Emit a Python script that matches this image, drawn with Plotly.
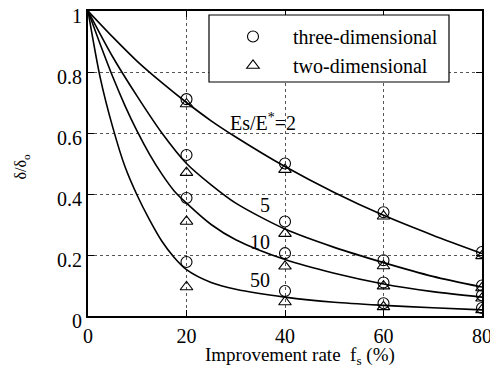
import plotly.graph_objects as go

# ---- data ----
fs_points = [20, 40, 60, 80]
three_dim = {
    "2":  [0.711, 0.50, 0.34, 0.21],
    "5":  [0.528, 0.31, 0.183, 0.10],
    "10": [0.387, 0.206, 0.11, 0.068],
    "50": [0.177, 0.082, 0.042, 0.026],
}
two_dim = {
    "2":  [0.695, 0.48, 0.327, 0.197],
    "5":  [0.47, 0.27, 0.164, 0.092],
    "10": [0.31, 0.163, 0.098, 0.058],
    "50": [0.095, 0.046, 0.03, 0.02],
}
curve_fs = {
    "2":  [0, 5, 10, 15, 20, 25, 30, 40, 50, 60, 70, 80],
    "5":  [0, 5, 10, 15, 20, 25, 30, 40, 50, 60, 70, 80],
    "10": [0, 2.5, 5, 7.5, 10, 12.5, 15, 17.5, 20, 25, 30, 40, 50, 60, 70, 80],
    "50": [0, 2.5, 5, 7.5, 10, 12.5, 15, 17.5, 20, 25, 30, 40, 50, 60, 70, 80],
}
curve_vals = {
    "2":  [1.0, 0.915, 0.835, 0.765, 0.70, 0.64, 0.587, 0.49, 0.405, 0.33, 0.265, 0.205],
    "5":  [1.0, 0.85, 0.72, 0.60, 0.50, 0.43, 0.37, 0.285, 0.225, 0.175, 0.13, 0.095],
    "10": [1.0, 0.89, 0.785, 0.69, 0.605, 0.53, 0.465, 0.41, 0.37, 0.30, 0.25, 0.185, 0.14, 0.105, 0.08, 0.062],
    "50": [1.0, 0.78, 0.62, 0.49, 0.395, 0.315, 0.245, 0.192, 0.152, 0.11, 0.088, 0.062, 0.045, 0.035, 0.027, 0.02],
}
curve_labels = ["Es/E<sup>*</sup>=2", "5", "10", "50"]
label_fs = [35.6, 36, 35, 35]
label_vals = [0.635, 0.364, 0.243, 0.118]
x_ticks = [0, 20, 40, 60, 80]
y_ticks = [0, 0.2, 0.4, 0.6, 0.8, 1]

FONT = "Liberation Serif, Times New Roman, serif"
NB = "\u00a0" * 4
fig = go.Figure()

for k in curve_fs:
    fig.add_trace(go.Scatter(x=curve_fs[k], y=curve_vals[k], mode="lines",
                             line=dict(color="black", width=1.6, shape="spline", smoothing=0.8),
                             showlegend=False, hoverinfo="skip"))

first = True
for k in two_dim:
    fig.add_trace(go.Scatter(x=fs_points, y=two_dim[k], mode="markers",
                             marker=dict(symbol="triangle-up-open", size=11, color="black",
                                         line=dict(width=1.1)),
                             name=NB + "two-dimensional", legendgroup="2d", showlegend=False))
for k in three_dim:
    fig.add_trace(go.Scatter(x=fs_points, y=three_dim[k], mode="markers",
                             marker=dict(symbol="circle-open", size=11, color="black",
                                         line=dict(width=1.1)),
                             name=NB + "three-dimensional", legendgroup="3d", showlegend=first))
    first = False
fig.add_trace(go.Scatter(x=[None], y=[None], mode="markers",
                         marker=dict(symbol="triangle-up-open", size=11, color="black",
                                     line=dict(width=1.1)),
                         name=NB + "two-dimensional", legendgroup="2d", showlegend=True))

for t, xv, yv in zip(curve_labels, label_fs, label_vals):
    fig.add_annotation(x=xv, y=yv, text=t, showarrow=False,
                       font=dict(family=FONT, size=20, color="black"))

# plot area: 394 x 305 px
fig.add_shape(type="rect", xref="paper", yref="paper",
              x0=(209 - 88) / 394, x1=(449 - 88) / 394,
              y0=(316 - 82) / 305, y1=(316 - 15) / 305,
              line=dict(color="black", width=1.2), fillcolor="white", layer="above")

fig.add_annotation(xref="paper", yref="paper", x=(300 - 88) / 394, y=(316 - 356) / 305,
                   xanchor="center", yanchor="middle",
                   text="Improvement rate  f<sub>s</sub> (%)", showarrow=False,
                   font=dict(family=FONT, size=19, color="black"))
fig.add_annotation(xref="paper", yref="paper", x=(22 - 88) / 394, y=0.49,
                   xanchor="center", yanchor="middle",
                   text="δ/δ<sub>o</sub>", textangle=-90, showarrow=False,
                   font=dict(family=FONT, size=16, color="black"))

axis_common = dict(showline=True, linecolor="black", linewidth=1.8, mirror="ticks",
                   ticks="inside", ticklen=6, tickwidth=1.2, tickcolor="black",
                   showgrid=True, gridcolor="#555", gridwidth=1, griddash="dot",
                   zeroline=False, automargin=False, ticklabeloverflow="allow",
                   tickfont=dict(family=FONT, size=20, color="black"))
fig.update_xaxes(range=[0, 80], tickvals=x_ticks, ticklabelstandoff=1, **axis_common)
fig.update_yaxes(range=[0, 1], tickvals=y_ticks, ticklabelshift=5, **axis_common)

# page body has an 8px margin, so the figure is sized/positioned to compensate
fig.update_layout(
    template="none",
    font=dict(family=FONT, size=20, color="black"),
    width=490, height=363,
    margin=dict(l=80, r=16, t=3, b=55),
    plot_bgcolor="white", paper_bgcolor="white",
    legend=dict(x=(233 - 88) / 394, y=(316 - 17) / 305, xanchor="left", yanchor="top",
                bgcolor="rgba(0,0,0,0)", borderwidth=0,
                font=dict(family=FONT, size=20, color="black"), tracegroupgap=0),
)
fig.write_html("out.html")
